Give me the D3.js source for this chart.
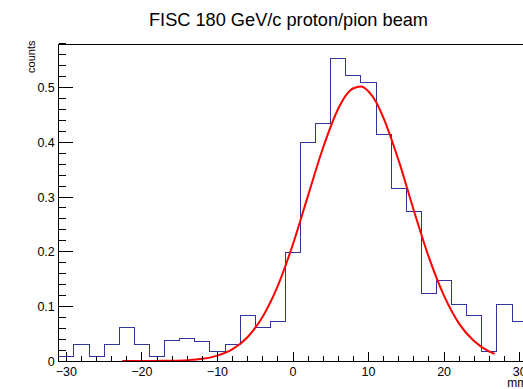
<!DOCTYPE html>
<html>
<head>
<meta charset="utf-8">
<script src="https://cdn.jsdelivr.net/npm/d3@7"></script>
<style>
  html, body { margin: 0; padding: 0; background: #fff; }
  svg { display: block; }
  text { font-family: "Liberation Sans", Arial, Helvetica, sans-serif; fill: #000; }
</style>
</head>
<body>
<script>
// ---- data ----
const chartTitle = "FISC 180 GeV/c proton/pion beam";
const xAxisTitle = "mm";
const yAxisTitle = "counts";
const xDomain = [-31, 31];
const yDomain = [0, 0.579];
const binLowEdges = [-31,-29,-27,-25,-23,-21,-19,-17,-15,-13,-11,-9,-7,-5,-3,-1,1,3,5,7,9,11,13,15,17,19,21,23,25,27,29];
const binWidth = 2;
const binCounts = [0.009,0.030,0.009,0.030,0.062,0.031,0.009,0.038,0.042,0.035,0.017,0.030,0.083,0.061,0.072,0.199,0.400,0.434,0.553,0.522,0.509,0.414,0.316,0.273,0.124,0.147,0.103,0.083,0.018,0.103,0.073];
// fitted curve (red)
const fitX = [-22.6,-20,-18,-16,-14,-12,-10,-8,-6,-4,-2,0,2,4,6,7,8,9,10,11,12,14,16,18,20,22,24,26,26.7];
const fitY = [0.000,0.000,0.0002,0.0005,0.0015,0.004,0.0098,0.0216,0.0439,0.0815,0.138,0.214,0.303,0.391,0.462,0.486,0.499,0.502,0.493,0.474,0.444,0.366,0.275,0.189,0.119,0.068,0.036,0.017,0.013];
const xMajorTicks = [-30,-20,-10,0,10,20,30];
const yMajorTicks = [0,0.1,0.2,0.3,0.4,0.5];
const yTickLabels = ["0","0.1","0.2","0.3","0.4","0.5"];

// ---- layout ----
const W = 523, H = 389;
const frame = {left: 58.8, right: 527.2, top: 44.5, bottom: 361};

const svg = d3.select("body").append("svg").attr("width", W).attr("height", H);

const x = d3.scaleLinear().domain(xDomain).range([frame.left, frame.right]);
const y = d3.scaleLinear().domain(yDomain).range([frame.bottom, frame.top]);

// title
svg.append("text").attr("x", 288.5).attr("y", 26).attr("text-anchor", "middle")
  .attr("font-size", 18.2).text(chartTitle);

// histogram
const histPath = d3.path();
histPath.moveTo(x(binLowEdges[0]), y(0));
binCounts.forEach((v, i) => {
  histPath.lineTo(x(binLowEdges[i]), y(v));
  histPath.lineTo(x(binLowEdges[i] + binWidth), y(v));
});
histPath.lineTo(x(binLowEdges[binLowEdges.length - 1] + binWidth), y(0));
svg.append("path").attr("d", histPath.toString()).attr("fill", "none")
  .attr("stroke", "#3333a0").attr("stroke-width", 1).attr("shape-rendering", "crispEdges");

// fit curve
const line = d3.line().x(d => x(d[0])).y(d => y(d[1])).curve(d3.curveMonotoneX);
svg.append("path").attr("d", line(fitX.map((v, i) => [v, fitY[i]])))
  .attr("fill", "none").attr("stroke", "#ff0000").attr("stroke-width", 2);

// frame
svg.append("rect").attr("x", frame.left).attr("y", frame.top)
  .attr("width", frame.right - frame.left).attr("height", frame.bottom - frame.top)
  .attr("fill", "none").attr("stroke", "#000").attr("stroke-width", 1).attr("shape-rendering", "crispEdges");

// x axis ticks (inside, upward)
const xMinor = d3.range(-30, 31, 2);
const gx = svg.append("g").attr("transform", `translate(0,${frame.bottom})`);
gx.selectAll("line").data(xMinor).join("line")
  .attr("x1", d => x(d)).attr("x2", d => x(d))
  .attr("y1", 0).attr("y2", d => xMajorTicks.includes(d) ? -9.5 : -4.8)
  .attr("stroke", "#000").attr("shape-rendering", "crispEdges");
gx.selectAll("text").data(xMajorTicks).join("text")
  .attr("x", d => x(d)).attr("y", 14.5).attr("text-anchor", "middle")
  .attr("font-size", 12.5).text(d => d < 0 ? "\u2212" + Math.abs(d) : String(d));

// y axis ticks (inside, rightward)
const yMinor = d3.range(0, 0.5801, 0.02);
const gy = svg.append("g").attr("transform", `translate(${frame.left},0)`);
gy.selectAll("line").data(yMinor).join("line")
  .attr("x1", 0).attr("y1", d => y(d)).attr("y2", d => y(d))
  .attr("x2", (d, i) => (i % 5 === 0) ? 14 : 7)
  .attr("stroke", "#000").attr("shape-rendering", "crispEdges");
gy.selectAll("text").data(yMajorTicks).join("text")
  .attr("x", -4).attr("y", d => y(d) + 4.5).attr("text-anchor", "end")
  .attr("font-size", 12.5).text((d, i) => yTickLabels[i]);

// axis titles
svg.append("text").attr("x", frame.right).attr("y", 386.5).attr("text-anchor", "end")
  .attr("font-size", 12).text(xAxisTitle);
svg.append("text").attr("transform", `translate(35,${frame.top - 4}) rotate(-90)`)
  .attr("text-anchor", "end").attr("font-size", 11).text(yAxisTitle);
</script>
</body>
</html>
